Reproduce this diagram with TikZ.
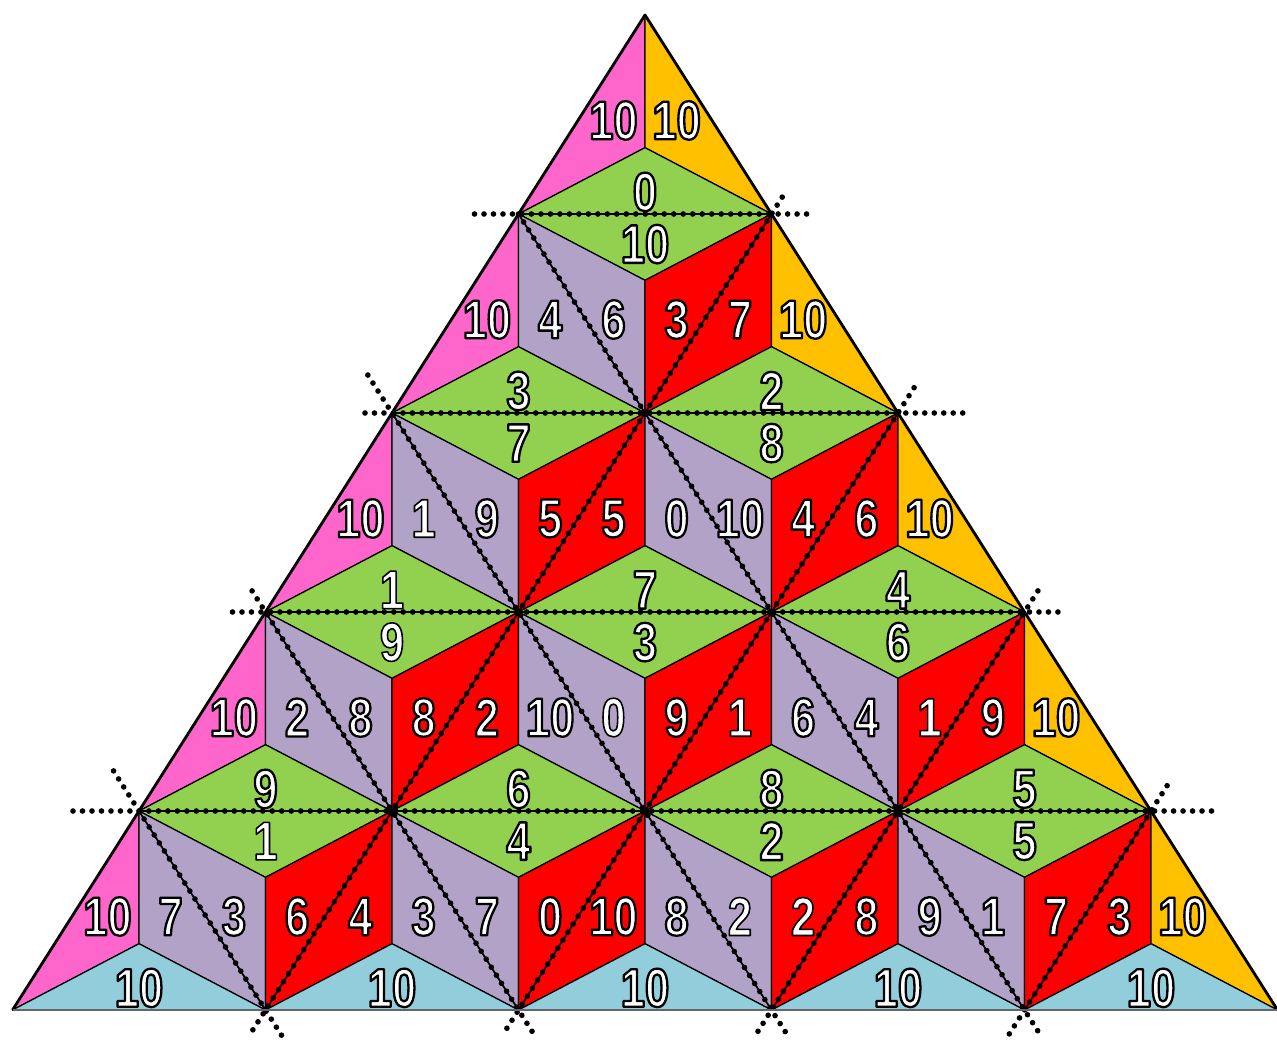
\documentclass[tikz,border=0pt]{standalone}
\usepackage{fontspec}
\newfontfamily\numfont[FakeStretch=0.8]{Liberation Sans Bold}
\definecolor{pinkf}{HTML}{FF66CC}
\definecolor{goldf}{HTML}{FFC000}
\definecolor{greenf}{HTML}{92D050}
\definecolor{lilacf}{HTML}{B3A2C7}
\definecolor{redf}{HTML}{FF0000}
\definecolor{bluef}{HTML}{92CDDC}
% white digits with a black outline (stroked text)
\newcommand\cnum[1]{\special{pdf:literal direct 0 0 0 RG 1 j 1.3 w 2 Tr}#1\special{pdf:literal direct 0 Tr}}
\newcommand\bnum[1]{\special{pdf:literal direct 0.9 w}#1}
\pgfdeclarelayer{back}
\pgfdeclarelayer{mid}
\pgfsetlayers{back,mid,main}

\begin{document}
\begin{tikzpicture}[x=0.02cm, y=-0.02cm,
  facet/.style={draw=black, line width=0.7pt, line join=round},
  seam/.style={line width=0.9pt},
  dotline/.style={line width=3.2pt, line cap=round, dash pattern=on 0pt off 5.4pt},
  rim/.style={line width=1.6pt, line join=round},
  num/.style={text=white, inner sep=0pt, font=\numfont\fontsize{31}{31}\selectfont}]
  \useasboundingbox (0,0) rectangle (1277,1054);
  % lattice points, row k has k+1 points
  \foreach \k in {0,...,5}
    \foreach \i in {0,...,\k}
      \coordinate (p-\k-\i) at ({645+(2*\i-\k)*126.5},{15+\k*199});

  % upward triangles: row/index/left/right/bottom
  \foreach \r/\j/\a/\b/\c in {1/0/10/10/0, 2/0/10/4/3, 2/1/7/10/2,
      3/0/10/\bnum{1}/\bnum{1}, 3/1/5/0/7, 3/2/6/10/4,
      4/0/10/2/9, 4/1/2/10/6, 4/2/\bnum{1}/6/8, 4/3/9/10/5,
      5/0/10/7/10, 5/1/4/3/10, 5/2/10/8/10, 5/3/8/9/10, 5/4/3/10/10} {
    \pgfmathtruncatemacro\rr{\r-1}
    \pgfmathtruncatemacro\jj{\j+1}
    \pgfmathsetmacro\tx{645+(2*\j-\r+1)*126.5}
    \pgfmathsetmacro\ya{15+\rr*199}
    \pgfmathsetmacro\yb{15+\r*199}
    \ifnum\j=0 \def\lc{pinkf}\else\def\lc{redf}\fi
    \ifnum\j=\rr \def\rc{goldf}\else\def\rc{lilacf}\fi
    \ifnum\r=5 \def\bc{bluef}\else\def\bc{greenf}\fi
    \coordinate (cu-\r-\j) at (\tx,{(\ya+2*\yb)/3});
    \begin{pgfonlayer}{back}
      \filldraw[facet, fill=\lc] (p-\rr-\j) -- (p-\r-\j) -- (cu-\r-\j) -- cycle;
      \filldraw[facet, fill=\rc] (p-\rr-\j) -- (p-\r-\jj) -- (cu-\r-\j) -- cycle;
      \filldraw[facet, fill=\bc] (p-\r-\j) -- (p-\r-\jj) -- (cu-\r-\j) -- cycle;
    \end{pgfonlayer}
    \node[num] (ua-\r-\j) at ({\tx-31.6},{(\ya+\yb)/2+6}) {\cnum{\a}};
    \node[num] (ub-\r-\j) at ({\tx+31.6},{(\ya+\yb)/2+6}) {\cnum{\b}};
    \node[num] (uc-\r-\j) at (\tx,{(\ya+8*\yb)/9}) {\cnum{\c}};
  }

  % downward triangles: row/index/top/left/right
  \foreach \r/\j/\a/\b/\c in {2/0/10/6/3, 3/0/7/9/5, 3/1/8/10/4,
      4/0/\bnum{9}/8/8, 4/1/3/\bnum{0}/9, 4/2/6/4/\bnum{1},
      5/0/\bnum{1}/3/6, 5/1/4/7/0, 5/2/2/\bnum{2}/\bnum{2}, 5/3/5/1/7} {
    \pgfmathtruncatemacro\rr{\r-1}
    \pgfmathtruncatemacro\jj{\j+1}
    \pgfmathsetmacro\bx{645+(2*\j+2-\r)*126.5}
    \pgfmathsetmacro\ya{15+\rr*199}
    \pgfmathsetmacro\yb{15+\r*199}
    \coordinate (cd-\r-\j) at (\bx,{(2*\ya+\yb)/3});
    \begin{pgfonlayer}{back}
      \filldraw[facet, fill=greenf] (p-\rr-\j) -- (p-\rr-\jj) -- (cd-\r-\j) -- cycle;
      \filldraw[facet, fill=lilacf] (p-\rr-\j) -- (p-\r-\jj) -- (cd-\r-\j) -- cycle;
      \filldraw[facet, fill=redf] (p-\rr-\jj) -- (p-\r-\jj) -- (cd-\r-\j) -- cycle;
    \end{pgfonlayer}
    \node[num] (da-\r-\j) at (\bx,{(8*\ya+\yb)/9+8}) {\cnum{\a}};
    \node[num] (db-\r-\j) at ({\bx-31.6},{(\ya+\yb)/2+6}) {\cnum{\b}};
    \node[num] (dc-\r-\j) at ({\bx+31.6},{(\ya+\yb)/2+6}) {\cnum{\c}};
  }

  \begin{pgfonlayer}{mid}
    % dotted lattice lines, a little past the rim
    \foreach \k/\hl/\hr/\bl/\fr in {1/0.88/0.84/0/0.4, 2/0.54/1.3/0.9/0.6,
        3/0.66/0.76/0.5/0.5, 4/1.32/1.4/0.95/0.6} {
      \pgfmathtruncatemacro\m{5-\k}
      \draw[seam] (p-\k-0) -- (p-\k-\k);
      \draw[seam] (p-\k-0) -- (p-5-\m);
      \draw[seam] (p-\k-\k) -- (p-5-\k);
      \draw[dotline, shorten <=-\hl cm, shorten >=-\hr cm] (p-\k-0) -- (p-\k-\k);
      \draw[dotline, shorten <=-\bl cm, shorten >=-0.6cm] (p-\k-0) -- (p-5-\m);
      \draw[dotline, shorten <=-\fr cm, shorten >=-0.6cm] (p-\k-\k) -- (p-5-\k);
    }
    % outline
    \draw[rim] (p-5-0) -- (p-0-0) -- (p-5-5);
    \draw[rim, black!60] (p-5-0) -- (p-5-5);
  \end{pgfonlayer}
\end{tikzpicture}
\end{document}
